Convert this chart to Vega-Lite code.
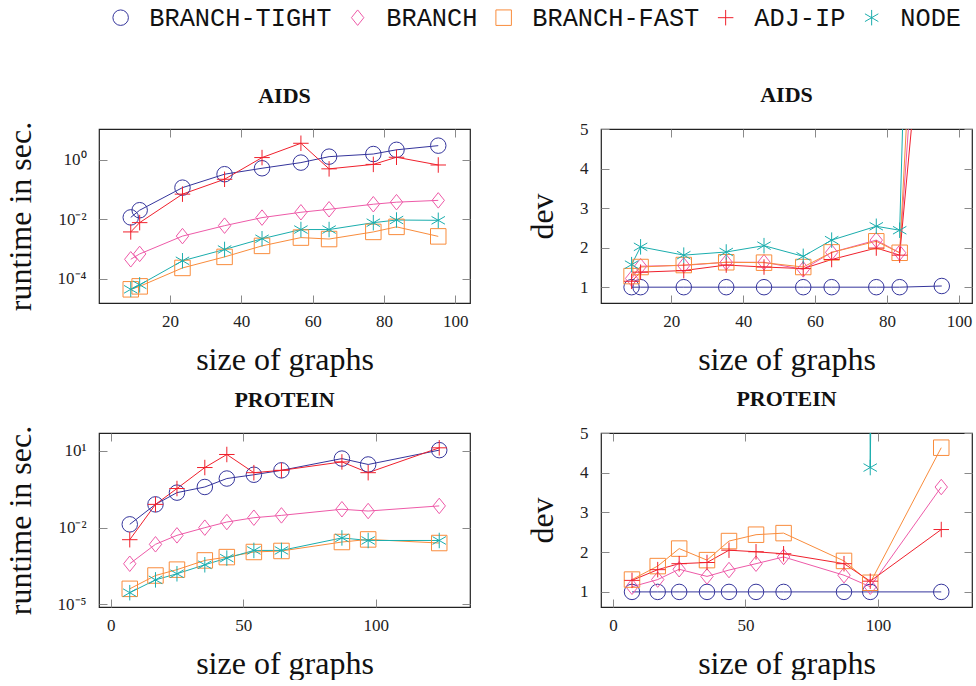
{
  "$schema": "https://vega.github.io/schema/vega-lite/v6.json",
  "background": "white",
  "padding": {"left": 3, "top": 5, "right": 0, "bottom": 0},
  "config": {
    "view": {"stroke": "#222222", "strokeWidth": 1.2},
    "font": "Liberation Serif",
    "axis": {
      "domain": false, "grid": false, "tickColor": "#8a8a8a", "tickSize": -8, "tickWidth": 1,
      "labelFont": "Liberation Serif", "labelFontSize": 17, "labelColor": "#222222",
      "labelOverlap": false, "labelFlush": false,
      "titleFont": "Liberation Serif", "titleFontSize": 32, "titleFontWeight": "normal", "titleColor": "#111111"
    },
    "axisX": {"labelPadding": 18, "titlePadding": 15},
    "axisY": {"labelPadding": 21, "titlePadding": 20},
    "title": {"font": "Liberation Serif", "fontSize": 22, "fontWeight": "bold", "offset": 13, "color": "#111111"},
    "legend": {
      "orient": "none", "legendX": 9, "legendY": -124, "direction": "horizontal",
      "labelFont": "Liberation Mono", "labelFontSize": 25.3, "labelColor": "#111111", "labelLimit": 0,
      "symbolSize": 240, "symbolStrokeWidth": 1, "labelOffset": 16, "columnPadding": 13, "padding": 0, "title": null
    }
  },
  "datasets": {
    "aids_rt": [
      {"m": "BRANCH-TIGHT", "x": 9, "y": 0.0117}, {"m": "BRANCH-TIGHT", "x": 11.5, "y": 0.0204}, {"m": "BRANCH-TIGHT", "x": 23.5, "y": 0.117}, {"m": "BRANCH-TIGHT", "x": 35.3, "y": 0.331}, {"m": "BRANCH-TIGHT", "x": 45.8, "y": 0.525}, {"m": "BRANCH-TIGHT", "x": 56.7, "y": 0.813}, {"m": "BRANCH-TIGHT", "x": 64.6, "y": 1.29}, {"m": "BRANCH-TIGHT", "x": 77, "y": 1.58}, {"m": "BRANCH-TIGHT", "x": 83.5, "y": 2.19}, {"m": "BRANCH-TIGHT", "x": 95.2, "y": 3.02},
      {"m": "BRANCH", "x": 9, "y": 0.000457}, {"m": "BRANCH", "x": 11.5, "y": 0.000692}, {"m": "BRANCH", "x": 23.5, "y": 0.00275}, {"m": "BRANCH", "x": 35.3, "y": 0.00617}, {"m": "BRANCH", "x": 45.8, "y": 0.0115}, {"m": "BRANCH", "x": 56.7, "y": 0.0174}, {"m": "BRANCH", "x": 64.6, "y": 0.0219}, {"m": "BRANCH", "x": 77, "y": 0.0324}, {"m": "BRANCH", "x": 83.5, "y": 0.038}, {"m": "BRANCH", "x": 95.2, "y": 0.0437},
      {"m": "BRANCH-FAST", "x": 9, "y": 0.0000447}, {"m": "BRANCH-FAST", "x": 11.5, "y": 0.0000562}, {"m": "BRANCH-FAST", "x": 23.5, "y": 0.000234}, {"m": "BRANCH-FAST", "x": 35.3, "y": 0.00055}, {"m": "BRANCH-FAST", "x": 45.8, "y": 0.00129}, {"m": "BRANCH-FAST", "x": 56.7, "y": 0.00245}, {"m": "BRANCH-FAST", "x": 64.6, "y": 0.00219}, {"m": "BRANCH-FAST", "x": 77, "y": 0.0038}, {"m": "BRANCH-FAST", "x": 83.5, "y": 0.00562}, {"m": "BRANCH-FAST", "x": 95.2, "y": 0.00269},
      {"m": "ADJ-IP", "x": 9, "y": 0.0038}, {"m": "ADJ-IP", "x": 11.5, "y": 0.0078}, {"m": "ADJ-IP", "x": 23.5, "y": 0.0708}, {"m": "ADJ-IP", "x": 35.3, "y": 0.224}, {"m": "ADJ-IP", "x": 45.8, "y": 1.2}, {"m": "ADJ-IP", "x": 56.7, "y": 3.63}, {"m": "ADJ-IP", "x": 64.6, "y": 0.501}, {"m": "ADJ-IP", "x": 77, "y": 0.708}, {"m": "ADJ-IP", "x": 83.5, "y": 1.23}, {"m": "ADJ-IP", "x": 95.2, "y": 0.676},
      {"m": "NODE", "x": 9, "y": 0.0000447}, {"m": "NODE", "x": 11.5, "y": 0.0000631}, {"m": "NODE", "x": 23.5, "y": 0.000407}, {"m": "NODE", "x": 35.3, "y": 0.000977}, {"m": "NODE", "x": 45.8, "y": 0.00224}, {"m": "NODE", "x": 56.7, "y": 0.00457}, {"m": "NODE", "x": 64.6, "y": 0.00457}, {"m": "NODE", "x": 77, "y": 0.00776}, {"m": "NODE", "x": 83.5, "y": 0.00955}, {"m": "NODE", "x": 95.2, "y": 0.00933}
    ],
    "aids_dev": [
      {"m": "BRANCH-TIGHT", "x": 9, "y": 1}, {"m": "BRANCH-TIGHT", "x": 11.5, "y": 1}, {"m": "BRANCH-TIGHT", "x": 23.5, "y": 1}, {"m": "BRANCH-TIGHT", "x": 35.3, "y": 1}, {"m": "BRANCH-TIGHT", "x": 45.8, "y": 1}, {"m": "BRANCH-TIGHT", "x": 56.7, "y": 1}, {"m": "BRANCH-TIGHT", "x": 64.6, "y": 1}, {"m": "BRANCH-TIGHT", "x": 77, "y": 1}, {"m": "BRANCH-TIGHT", "x": 83.5, "y": 1}, {"m": "BRANCH-TIGHT", "x": 95.2, "y": 1.03},
      {"m": "BRANCH", "x": 9, "y": 1.22}, {"m": "BRANCH", "x": 11.5, "y": 1.53}, {"m": "BRANCH", "x": 23.5, "y": 1.55}, {"m": "BRANCH", "x": 35.3, "y": 1.63}, {"m": "BRANCH", "x": 45.8, "y": 1.63}, {"m": "BRANCH", "x": 56.7, "y": 1.45}, {"m": "BRANCH", "x": 64.6, "y": 1.88}, {"m": "BRANCH", "x": 77, "y": 2.19}, {"m": "BRANCH", "x": 83.5, "y": 1.87}, {"m": "BRANCH", "x": 95.2, "y": 17},
      {"m": "BRANCH-FAST", "x": 9, "y": 1.28}, {"m": "BRANCH-FAST", "x": 11.5, "y": 1.51}, {"m": "BRANCH-FAST", "x": 23.5, "y": 1.56}, {"m": "BRANCH-FAST", "x": 35.3, "y": 1.63}, {"m": "BRANCH-FAST", "x": 45.8, "y": 1.62}, {"m": "BRANCH-FAST", "x": 56.7, "y": 1.51}, {"m": "BRANCH-FAST", "x": 64.6, "y": 1.88}, {"m": "BRANCH-FAST", "x": 77, "y": 2.16}, {"m": "BRANCH-FAST", "x": 83.5, "y": 1.87}, {"m": "BRANCH-FAST", "x": 95.2, "y": 22},
      {"m": "ADJ-IP", "x": 9, "y": 1.15}, {"m": "ADJ-IP", "x": 11.5, "y": 1.38}, {"m": "ADJ-IP", "x": 23.5, "y": 1.42}, {"m": "ADJ-IP", "x": 35.3, "y": 1.56}, {"m": "ADJ-IP", "x": 45.8, "y": 1.51}, {"m": "ADJ-IP", "x": 56.7, "y": 1.47}, {"m": "ADJ-IP", "x": 64.6, "y": 1.7}, {"m": "ADJ-IP", "x": 77, "y": 1.99}, {"m": "ADJ-IP", "x": 83.5, "y": 1.81}, {"m": "ADJ-IP", "x": 95.2, "y": 13.3},
      {"m": "NODE", "x": 9, "y": 1.57}, {"m": "NODE", "x": 11.5, "y": 2.02}, {"m": "NODE", "x": 23.5, "y": 1.81}, {"m": "NODE", "x": 35.3, "y": 1.89}, {"m": "NODE", "x": 45.8, "y": 2.05}, {"m": "NODE", "x": 56.7, "y": 1.78}, {"m": "NODE", "x": 64.6, "y": 2.19}, {"m": "NODE", "x": 77, "y": 2.54}, {"m": "NODE", "x": 83.5, "y": 2.44}, {"m": "NODE", "x": 95.2, "y": 40}
    ],
    "prot_rt": [
      {"m": "BRANCH-TIGHT", "x": 7.2, "y": 0.0135}, {"m": "BRANCH-TIGHT", "x": 16.9, "y": 0.0813}, {"m": "BRANCH-TIGHT", "x": 25, "y": 0.234}, {"m": "BRANCH-TIGHT", "x": 35.5, "y": 0.389}, {"m": "BRANCH-TIGHT", "x": 43.8, "y": 0.832}, {"m": "BRANCH-TIGHT", "x": 54, "y": 1.17}, {"m": "BRANCH-TIGHT", "x": 64.4, "y": 1.74}, {"m": "BRANCH-TIGHT", "x": 87.2, "y": 5.01}, {"m": "BRANCH-TIGHT", "x": 97.1, "y": 2.95}, {"m": "BRANCH-TIGHT", "x": 123.9, "y": 10.7},
      {"m": "BRANCH", "x": 7.2, "y": 0.000389}, {"m": "BRANCH", "x": 16.9, "y": 0.00224}, {"m": "BRANCH", "x": 25, "y": 0.00501}, {"m": "BRANCH", "x": 35.5, "y": 0.01}, {"m": "BRANCH", "x": 43.8, "y": 0.0166}, {"m": "BRANCH", "x": 54, "y": 0.0245}, {"m": "BRANCH", "x": 64.4, "y": 0.0302}, {"m": "BRANCH", "x": 87.2, "y": 0.0525}, {"m": "BRANCH", "x": 97.1, "y": 0.0447}, {"m": "BRANCH", "x": 123.9, "y": 0.0708},
      {"m": "BRANCH-FAST", "x": 7.2, "y": 0.0000407}, {"m": "BRANCH-FAST", "x": 16.9, "y": 0.000135}, {"m": "BRANCH-FAST", "x": 25, "y": 0.000229}, {"m": "BRANCH-FAST", "x": 35.5, "y": 0.000525}, {"m": "BRANCH-FAST", "x": 43.8, "y": 0.000708}, {"m": "BRANCH-FAST", "x": 54, "y": 0.00112}, {"m": "BRANCH-FAST", "x": 64.4, "y": 0.00123}, {"m": "BRANCH-FAST", "x": 87.2, "y": 0.00275}, {"m": "BRANCH-FAST", "x": 97.1, "y": 0.00347}, {"m": "BRANCH-FAST", "x": 123.9, "y": 0.00251},
      {"m": "ADJ-IP", "x": 7.2, "y": 0.00339}, {"m": "ADJ-IP", "x": 16.9, "y": 0.0813}, {"m": "ADJ-IP", "x": 25, "y": 0.339}, {"m": "ADJ-IP", "x": 35.5, "y": 2.24}, {"m": "ADJ-IP", "x": 43.8, "y": 7.24}, {"m": "ADJ-IP", "x": 54, "y": 1.41}, {"m": "ADJ-IP", "x": 64.4, "y": 1.74}, {"m": "ADJ-IP", "x": 87.2, "y": 3.72}, {"m": "ADJ-IP", "x": 97.1, "y": 1.41}, {"m": "ADJ-IP", "x": 123.9, "y": 13.2},
      {"m": "NODE", "x": 7.2, "y": 0.0000288}, {"m": "NODE", "x": 16.9, "y": 0.0000912}, {"m": "NODE", "x": 25, "y": 0.000158}, {"m": "NODE", "x": 35.5, "y": 0.000355}, {"m": "NODE", "x": 43.8, "y": 0.000646}, {"m": "NODE", "x": 54, "y": 0.00129}, {"m": "NODE", "x": 64.4, "y": 0.00129}, {"m": "NODE", "x": 87.2, "y": 0.00398}, {"m": "NODE", "x": 97.1, "y": 0.00316}, {"m": "NODE", "x": 123.9, "y": 0.00316}
    ],
    "prot_dev": [
      {"m": "BRANCH-TIGHT", "x": 7.2, "y": 1}, {"m": "BRANCH-TIGHT", "x": 16.9, "y": 1}, {"m": "BRANCH-TIGHT", "x": 25, "y": 1}, {"m": "BRANCH-TIGHT", "x": 35.5, "y": 1}, {"m": "BRANCH-TIGHT", "x": 43.8, "y": 1}, {"m": "BRANCH-TIGHT", "x": 54, "y": 1}, {"m": "BRANCH-TIGHT", "x": 64.4, "y": 1}, {"m": "BRANCH-TIGHT", "x": 87.2, "y": 1}, {"m": "BRANCH-TIGHT", "x": 97.1, "y": 1}, {"m": "BRANCH-TIGHT", "x": 123.9, "y": 1},
      {"m": "BRANCH", "x": 7.2, "y": 1.13}, {"m": "BRANCH", "x": 16.9, "y": 1.31}, {"m": "BRANCH", "x": 25, "y": 1.57}, {"m": "BRANCH", "x": 35.5, "y": 1.39}, {"m": "BRANCH", "x": 43.8, "y": 1.55}, {"m": "BRANCH", "x": 54, "y": 1.71}, {"m": "BRANCH", "x": 64.4, "y": 1.88}, {"m": "BRANCH", "x": 87.2, "y": 1.42}, {"m": "BRANCH", "x": 97.1, "y": 1.13}, {"m": "BRANCH", "x": 123.9, "y": 3.64},
      {"m": "BRANCH-FAST", "x": 7.2, "y": 1.31}, {"m": "BRANCH-FAST", "x": 16.9, "y": 1.65}, {"m": "BRANCH-FAST", "x": 25, "y": 2.09}, {"m": "BRANCH-FAST", "x": 35.5, "y": 1.8}, {"m": "BRANCH-FAST", "x": 43.8, "y": 2.28}, {"m": "BRANCH-FAST", "x": 54, "y": 2.44}, {"m": "BRANCH-FAST", "x": 64.4, "y": 2.48}, {"m": "BRANCH-FAST", "x": 87.2, "y": 1.78}, {"m": "BRANCH-FAST", "x": 97.1, "y": 1.23}, {"m": "BRANCH-FAST", "x": 123.9, "y": 4.63},
      {"m": "ADJ-IP", "x": 7.2, "y": 1.29}, {"m": "ADJ-IP", "x": 16.9, "y": 1.56}, {"m": "ADJ-IP", "x": 25, "y": 1.71}, {"m": "ADJ-IP", "x": 35.5, "y": 1.74}, {"m": "ADJ-IP", "x": 43.8, "y": 2.05}, {"m": "ADJ-IP", "x": 54, "y": 2.01}, {"m": "ADJ-IP", "x": 64.4, "y": 1.96}, {"m": "ADJ-IP", "x": 87.2, "y": 1.71}, {"m": "ADJ-IP", "x": 97.1, "y": 1.27}, {"m": "ADJ-IP", "x": 123.9, "y": 2.57},
      {"m": "NODE", "x": 7.2, "y": 150}, {"m": "NODE", "x": 16.9, "y": 150}, {"m": "NODE", "x": 25, "y": 150}, {"m": "NODE", "x": 35.5, "y": 150}, {"m": "NODE", "x": 43.8, "y": 150}, {"m": "NODE", "x": 54, "y": 150}, {"m": "NODE", "x": 64.4, "y": 150}, {"m": "NODE", "x": 87.2, "y": 150}, {"m": "NODE", "x": 97.1, "y": 4.13}, {"m": "NODE", "x": 123.9, "y": 150}
    ]
  },
  "resolve": {"scale": {"x": "independent", "y": "independent", "color": "shared", "shape": "shared"}},
  "spacing": 11,
  "vconcat": [
    {
      "spacing": 53,
      "resolve": {"scale": {"x": "independent", "y": "independent", "color": "shared", "shape": "shared"}},
      "hconcat": [
        {
          "width": 371, "height": 174, "title": "AIDS",
          "data": {"name": "aids_rt"},
          "layer": [
            {
              "mark": {"type": "line", "clip": true, "strokeWidth": 1},
              "encoding": {
                "x": {"field": "x", "type": "quantitative", "scale": {"domain": [0.1, 104.1], "nice": false, "zero": false}, "axis": {"orient": "bottom", "values": [20, 40, 60, 80, 100], "title": "size of graphs"}},
                "y": {"field": "y", "type": "quantitative", "scale": {"type": "log", "domain": [0.0000155, 10.96], "nice": false}, "axis": {"orient": "left", "values": [0.0001, 0.01, 1], "title": "runtime in sec.", "labelExpr": "round(log(datum.value)/LN10) == 0 ? '10⁰' : round(log(datum.value)/LN10) == -2 ? '10⁻²' : '10⁻⁴'"}},
                "color": {"field": "m", "type": "nominal", "scale": {"domain": ["BRANCH-TIGHT", "BRANCH", "BRANCH-FAST", "ADJ-IP", "NODE"], "range": ["#35359c", "#ee5aa8", "#f98c3c", "#f0202c", "#1aadad"]}, "legend": {"title": null}}
              }
            },
            {
              "mark": {"type": "point", "clip": true, "filled": false, "strokeWidth": 1, "size": 240, "opacity": 1},
              "encoding": {
                "x": {"field": "x", "type": "quantitative", "scale": {"domain": [0.1, 104.1], "nice": false, "zero": false}, "axis": {"orient": "top", "values": [20, 40, 60, 80, 100], "labels": false, "title": null}},
                "y": {"field": "y", "type": "quantitative", "scale": {"type": "log", "domain": [0.0000155, 10.96], "nice": false}, "axis": {"orient": "right", "values": [0.0001, 0.01, 1], "labels": false, "title": null}},
                "color": {"field": "m", "type": "nominal", "scale": {"domain": ["BRANCH-TIGHT", "BRANCH", "BRANCH-FAST", "ADJ-IP", "NODE"], "range": ["#35359c", "#ee5aa8", "#f98c3c", "#f0202c", "#1aadad"]}, "legend": {"title": null}},
                "shape": {"field": "m", "type": "nominal", "scale": {"domain": ["BRANCH-TIGHT", "BRANCH", "BRANCH-FAST", "ADJ-IP", "NODE"], "range": ["circle", "M0,-1L0.8,0L0,1L-0.8,0Z", "square", "M0,-1L0,1M-1,0L1,0", "M0,-1L0,1M-0.866,-0.5L0.866,0.5M-0.866,0.5L0.866,-0.5"]}, "legend": {"title": null}}
              }
            }
          ]
        },
        {
          "width": 371, "height": 174, "title": "AIDS",
          "data": {"name": "aids_dev"},
          "layer": [
            {
              "mark": {"type": "line", "clip": true, "strokeWidth": 1},
              "encoding": {
                "x": {"field": "x", "type": "quantitative", "scale": {"domain": [0.5, 103.6], "nice": false, "zero": false}, "axis": {"orient": "bottom", "values": [20, 40, 60, 80, 100], "title": "size of graphs"}},
                "y": {"field": "y", "type": "quantitative", "scale": {"domain": [0.6, 5], "nice": false, "zero": false}, "axis": {"orient": "left", "values": [1, 2, 3, 4, 5], "title": "dev"}},
                "color": {"field": "m", "type": "nominal", "scale": {"domain": ["BRANCH-TIGHT", "BRANCH", "BRANCH-FAST", "ADJ-IP", "NODE"], "range": ["#35359c", "#ee5aa8", "#f98c3c", "#f0202c", "#1aadad"]}, "legend": {"title": null}}
              }
            },
            {
              "mark": {"type": "point", "clip": true, "filled": false, "strokeWidth": 1, "size": 240, "opacity": 1},
              "encoding": {
                "x": {"field": "x", "type": "quantitative", "scale": {"domain": [0.5, 103.6], "nice": false, "zero": false}, "axis": {"orient": "top", "values": [20, 40, 60, 80, 100], "labels": false, "title": null}},
                "y": {"field": "y", "type": "quantitative", "scale": {"domain": [0.6, 5], "nice": false, "zero": false}, "axis": {"orient": "right", "values": [1, 2, 3, 4, 5], "labels": false, "title": null}},
                "color": {"field": "m", "type": "nominal", "scale": {"domain": ["BRANCH-TIGHT", "BRANCH", "BRANCH-FAST", "ADJ-IP", "NODE"], "range": ["#35359c", "#ee5aa8", "#f98c3c", "#f0202c", "#1aadad"]}, "legend": {"title": null}},
                "shape": {"field": "m", "type": "nominal", "scale": {"domain": ["BRANCH-TIGHT", "BRANCH", "BRANCH-FAST", "ADJ-IP", "NODE"], "range": ["circle", "M0,-1L0.8,0L0,1L-0.8,0Z", "square", "M0,-1L0,1M-1,0L1,0", "M0,-1L0,1M-0.866,-0.5L0.866,0.5M-0.866,0.5L0.866,-0.5"]}, "legend": {"title": null}}
              }
            }
          ]
        }
      ]
    },
    {
      "spacing": 53,
      "resolve": {"scale": {"x": "independent", "y": "independent", "color": "shared", "shape": "shared"}},
      "hconcat": [
        {
          "width": 371, "height": 174, "title": "PROTEIN",
          "data": {"name": "prot_rt"},
          "layer": [
            {
              "mark": {"type": "line", "clip": true, "strokeWidth": 1},
              "encoding": {
                "x": {"field": "x", "type": "quantitative", "scale": {"domain": [-4.4, 135.5], "nice": false, "zero": false}, "axis": {"orient": "bottom", "values": [0, 50, 100], "title": "size of graphs"}},
                "y": {"field": "y", "type": "quantitative", "scale": {"type": "log", "domain": [0.00000794, 50.1], "nice": false}, "axis": {"orient": "left", "values": [0.00001, 0.01, 10], "title": "runtime in sec.", "labelExpr": "round(log(datum.value)/LN10) == 1 ? '10¹' : round(log(datum.value)/LN10) == -2 ? '10⁻²' : '10⁻⁵'"}},
                "color": {"field": "m", "type": "nominal", "scale": {"domain": ["BRANCH-TIGHT", "BRANCH", "BRANCH-FAST", "ADJ-IP", "NODE"], "range": ["#35359c", "#ee5aa8", "#f98c3c", "#f0202c", "#1aadad"]}, "legend": {"title": null}}
              }
            },
            {
              "mark": {"type": "point", "clip": true, "filled": false, "strokeWidth": 1, "size": 240, "opacity": 1},
              "encoding": {
                "x": {"field": "x", "type": "quantitative", "scale": {"domain": [-4.4, 135.5], "nice": false, "zero": false}, "axis": {"orient": "top", "values": [0, 50, 100], "labels": false, "title": null}},
                "y": {"field": "y", "type": "quantitative", "scale": {"type": "log", "domain": [0.00000794, 50.1], "nice": false}, "axis": {"orient": "right", "values": [0.00001, 0.01, 10], "labels": false, "title": null}},
                "color": {"field": "m", "type": "nominal", "scale": {"domain": ["BRANCH-TIGHT", "BRANCH", "BRANCH-FAST", "ADJ-IP", "NODE"], "range": ["#35359c", "#ee5aa8", "#f98c3c", "#f0202c", "#1aadad"]}, "legend": {"title": null}},
                "shape": {"field": "m", "type": "nominal", "scale": {"domain": ["BRANCH-TIGHT", "BRANCH", "BRANCH-FAST", "ADJ-IP", "NODE"], "range": ["circle", "M0,-1L0.8,0L0,1L-0.8,0Z", "square", "M0,-1L0,1M-1,0L1,0", "M0,-1L0,1M-0.866,-0.5L0.866,0.5M-0.866,0.5L0.866,-0.5"]}, "legend": {"title": null}}
              }
            }
          ]
        },
        {
          "width": 371, "height": 174, "title": "PROTEIN",
          "data": {"name": "prot_dev"},
          "layer": [
            {
              "mark": {"type": "line", "clip": true, "strokeWidth": 1},
              "encoding": {
                "x": {"field": "x", "type": "quantitative", "scale": {"domain": [-4.5, 135.5], "nice": false, "zero": false}, "axis": {"orient": "bottom", "values": [0, 50, 100], "title": "size of graphs"}},
                "y": {"field": "y", "type": "quantitative", "scale": {"domain": [0.62, 5], "nice": false, "zero": false}, "axis": {"orient": "left", "values": [1, 2, 3, 4, 5], "title": "dev"}},
                "color": {"field": "m", "type": "nominal", "scale": {"domain": ["BRANCH-TIGHT", "BRANCH", "BRANCH-FAST", "ADJ-IP", "NODE"], "range": ["#35359c", "#ee5aa8", "#f98c3c", "#f0202c", "#1aadad"]}, "legend": {"title": null}}
              }
            },
            {
              "mark": {"type": "point", "clip": true, "filled": false, "strokeWidth": 1, "size": 240, "opacity": 1},
              "encoding": {
                "x": {"field": "x", "type": "quantitative", "scale": {"domain": [-4.5, 135.5], "nice": false, "zero": false}, "axis": {"orient": "top", "values": [0, 50, 100], "labels": false, "title": null}},
                "y": {"field": "y", "type": "quantitative", "scale": {"domain": [0.62, 5], "nice": false, "zero": false}, "axis": {"orient": "right", "values": [1, 2, 3, 4, 5], "labels": false, "title": null}},
                "color": {"field": "m", "type": "nominal", "scale": {"domain": ["BRANCH-TIGHT", "BRANCH", "BRANCH-FAST", "ADJ-IP", "NODE"], "range": ["#35359c", "#ee5aa8", "#f98c3c", "#f0202c", "#1aadad"]}, "legend": {"title": null}},
                "shape": {"field": "m", "type": "nominal", "scale": {"domain": ["BRANCH-TIGHT", "BRANCH", "BRANCH-FAST", "ADJ-IP", "NODE"], "range": ["circle", "M0,-1L0.8,0L0,1L-0.8,0Z", "square", "M0,-1L0,1M-1,0L1,0", "M0,-1L0,1M-0.866,-0.5L0.866,0.5M-0.866,0.5L0.866,-0.5"]}, "legend": {"title": null}}
              }
            }
          ]
        }
      ]
    }
  ]
}
